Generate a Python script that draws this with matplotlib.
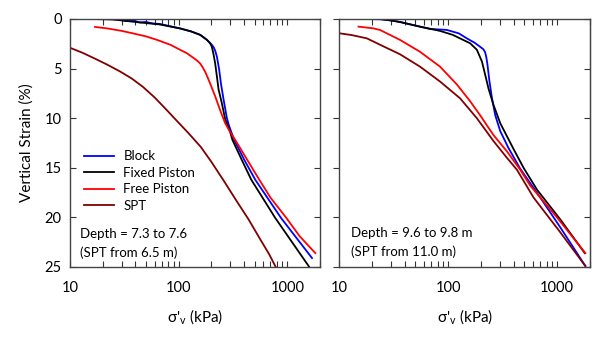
import matplotlib
matplotlib.use("Agg")
import matplotlib.pyplot as plt
from matplotlib.ticker import LogLocator, FixedLocator, NullFormatter

plt.rcParams['font.family'] = ['Lato', 'DejaVu Sans']
plt.rcParams['mathtext.default'] = 'regular'

# ---- Left panel data (stress kPa, strain %) ----
L_block_x = [16, 22, 28, 33, 38, 44, 50, 58, 67, 85, 103, 130, 158, 182, 202, 210, 217, 225, 236, 245, 259, 278, 290, 303, 325, 402, 507, 875, 1689]
L_block_y = [0.0, 0.0, 0.05, 0.2, 0.15, 0.35, 0.3, 0.45, 0.5, 0.75, 0.95, 1.25, 1.6, 2.1, 2.6, 2.85, 3.2, 3.8, 5.1, 6.5, 8.1, 10.0, 10.7, 11.3, 12.2, 14.2, 16.2, 20.05, 24.1]
L_fixed_x = [16, 25, 40, 67, 103, 130, 158, 182, 195, 202, 209, 217, 225, 233, 250, 268, 294, 313, 381, 466, 774, 1571, 1650]
L_fixed_y = [0.0, 0.05, 0.3, 0.55, 0.95, 1.25, 1.6, 2.1, 2.45, 2.8, 3.5, 4.5, 5.8, 7.1, 8.5, 10.1, 11.2, 12.2, 14.2, 16.2, 20.05, 24.9, 25.3]
L_free_x = [17, 22, 30, 38, 50, 63, 84, 103, 119, 140, 150, 158, 166, 175, 185, 195, 217, 241, 268, 298, 332, 428, 552, 700, 979, 1300, 1812]
L_free_y = [0.8, 0.95, 1.2, 1.45, 1.75, 2.1, 2.6, 3.1, 3.45, 4.0, 4.25, 4.5, 4.85, 5.3, 5.9, 6.5, 7.8, 9.2, 10.5, 11.4, 12.2, 14.2, 16.2, 18.0, 20.05, 21.9, 23.6]
L_spt_x = [10, 13, 17, 22, 29, 37, 47, 60, 75, 95, 123, 160, 200, 260, 344, 440, 563, 680, 774, 820]
L_spt_y = [2.9, 3.4, 4.0, 4.6, 5.3, 6.0, 6.85, 7.9, 9.0, 10.2, 11.5, 12.9, 14.4, 16.3, 18.4, 20.2, 22.2, 23.7, 24.9, 25.4]

# ---- Right panel data ----
R_block_x = [16, 24, 30, 36, 55, 68, 97, 125, 148, 175, 196, 210, 218, 224, 229, 239, 252, 270, 300, 357, 458, 699, 1067, 1813]
R_block_y = [0.0, 0.02, 0.15, 0.3, 0.77, 1.0, 1.1, 1.45, 1.95, 2.4, 2.8, 3.05, 3.35, 3.9, 4.6, 6.3, 8.0, 9.7, 11.3, 13.0, 15.1, 18.0, 21.0, 24.9]
R_fixed_x = [16, 24, 30, 36, 55, 84, 110, 128, 159, 183, 204, 218, 234, 260, 300, 397, 491, 652, 1067, 1790]
R_fixed_y = [0.0, 0.02, 0.15, 0.3, 0.77, 1.2, 1.6, 1.95, 2.45, 3.1, 4.3, 5.6, 7.0, 8.65, 10.5, 13.1, 15.0, 17.2, 20.2, 23.6]
R_free_x = [15, 20.5, 23.7, 36, 55, 84, 120, 159, 196, 260, 346, 458, 566, 996, 1813]
R_free_y = [0.77, 0.94, 1.11, 2.1, 3.3, 4.8, 6.6, 8.3, 9.7, 11.7, 13.35, 15.2, 16.8, 20.0, 23.6]
R_spt_x = [10, 13, 17.9, 23.7, 36, 55, 84, 128.5, 183, 260, 346, 427, 607, 1067, 1813]
R_spt_y = [1.44, 1.62, 1.95, 2.6, 3.55, 4.8, 6.3, 8.0, 10.0, 12.3, 14.0, 15.2, 18.0, 21.5, 24.9]

labels = ["Block", "Fixed Piston", "Free Piston", "SPT"]
colors = ["#0000ff", "#000000", "#ff0000", "#800000"]
y_ticks = [0, 5, 10, 15, 20, 25]
x_ticks = [10, 100, 1000]
x_tick_labels = ["10", "100", "1000"]

fig = plt.figure(figsize=(6.02, 3.38), dpi=100)
axL = fig.add_axes([70/602, 1-267/338, 250/602, 248/338])
axR = fig.add_axes([339.3/602, 1-267/338, 250.7/602, 248/338])

left_data = [(L_block_x, L_block_y), (L_fixed_x, L_fixed_y), (L_free_x, L_free_y), (L_spt_x, L_spt_y)]
right_data = [(R_block_x, R_block_y), (R_fixed_x, R_fixed_y), (R_free_x, R_free_y), (R_spt_x, R_spt_y)]

for ax, data in [(axL, left_data), (axR, right_data)]:
    for (xs, ys), c, lab in zip(data, colors, labels):
        ax.plot(xs, ys, color=c, lw=1.3, label=lab, solid_joinstyle='round')
    ax.set_xscale('log')
    ax.set_xlim(10, 2000)
    ax.set_ylim(25, 0)
    ax.xaxis.set_major_locator(FixedLocator(x_ticks))
    ax.set_xticklabels(x_tick_labels)
    ax.xaxis.set_minor_locator(LogLocator(base=10, subs=range(2, 10)))
    ax.xaxis.set_minor_formatter(NullFormatter())
    ax.set_yticks(y_ticks)
    ax.tick_params(axis='x', which='both', direction='in', top=True, bottom=True,
                   length=4, width=0.8, labelsize=10.5, pad=10, colors='#333333',
                   labelcolor='black')
    for s in ax.spines.values():
        s.set_color('#444444')
        s.set_linewidth(1.0)
    ax.set_xlabel("σ'$_{v}$ (kPa)", fontsize=11, labelpad=9)

axL.tick_params(axis='y', which='both', direction='in', left=True, right=True,
                length=4, width=0.8, labelsize=10.5, pad=6, colors='#333333', labelcolor='black')
axL.set_ylabel("Vertical Strain (%)", fontsize=11, labelpad=8)

axR.tick_params(axis='y', which='both', direction='out', left=True, right=False,
                length=4, width=0.8, labelleft=False, colors='#333333')
axR2 = axR.secondary_yaxis('right')
axR2.set_yticks(y_ticks)
axR2.tick_params(direction='in', length=4, width=0.8, labelright=False, colors='#333333')

leg = axL.legend(loc='upper left', bbox_to_anchor=(0.055, 0.47), frameon=False,
                 fontsize=9.5, handlelength=2.3, labelspacing=0.33, handletextpad=0.7,
                 borderaxespad=0, borderpad=0)

axL.text(80/602, 1-234/338, "Depth = 7.3 to 7.6", transform=fig.transFigure,
         fontsize=9.5, va='center', ha='left')
axL.text(80/602, 1-253/338, "(SPT from 6.5 m)", transform=fig.transFigure,
         fontsize=9.5, va='center', ha='left')
axR.text(351/602, 1-233/338, "Depth = 9.6 to 9.8 m", transform=fig.transFigure,
         fontsize=9.5, va='center', ha='left')
axR.text(351/602, 1-252/338, "(SPT from 11.0 m)", transform=fig.transFigure,
         fontsize=9.5, va='center', ha='left')

fig.savefig("out.png", dpi=100)
